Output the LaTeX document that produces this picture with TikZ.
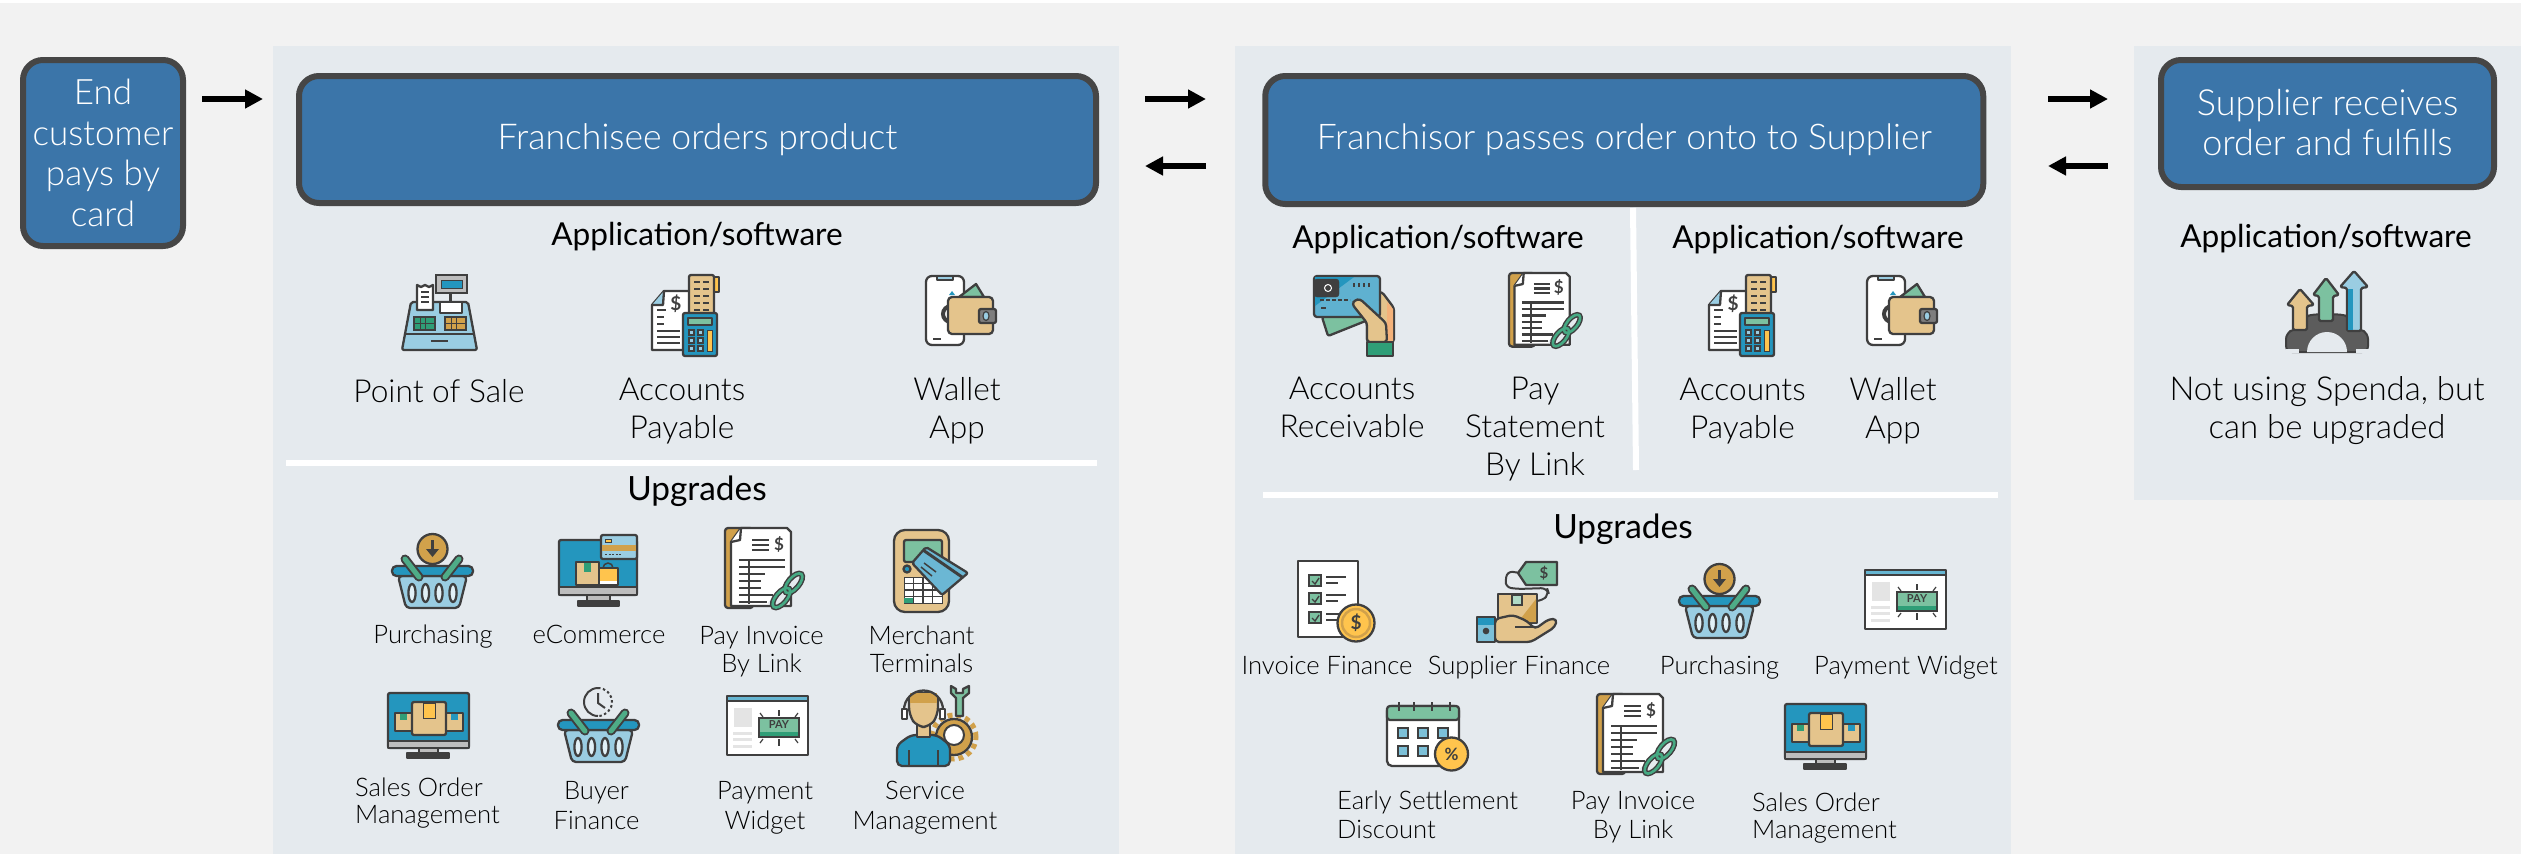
\documentclass[tikz,border=0pt]{standalone}
\usepackage{fontspec}
\setmainfont{Lato}
\newfontfamily\lightf{Lato Light}
\usetikzlibrary{arrows.meta,calc}
\definecolor{pagebg}{HTML}{F2F2F2}
\definecolor{panelbg}{HTML}{E5EAEE}
\definecolor{boxblue}{HTML}{3B75A9}
\definecolor{boxedge}{HTML}{464646}
\definecolor{icd}{HTML}{3F3F3F}
\definecolor{icb}{HTML}{2496BE}
\definecolor{iclb}{HTML}{9ACDE2}
\definecolor{icg}{HTML}{7CC1A0}
\definecolor{icdg}{HTML}{2F9E77}
\definecolor{ictan}{HTML}{E4C48C}
\definecolor{icdtan}{HTML}{D1A14B}
\definecolor{icy}{HTML}{FFC44D}
\definecolor{icgr}{HTML}{BDBDBD}
\definecolor{icor}{HTML}{F4B27A}
\tikzset{
 x=1pt,y=-1pt,
 panel/.style={fill=panelbg,draw=none},
 flow/.style={draw=boxedge,fill=boxblue,line width=6pt,rounded corners=20pt,text=white,align=center,inner sep=0pt,font=\lightf},
 arrowk/.style={line width=6.5pt,draw=black,-{Triangle[length=18pt,width=18pt]}},
 sep/.style={draw=white,line width=6pt},
 head/.style={inner sep=0pt,anchor=base,font=\fontsize{31.6}{31.6}\selectfont},
 headu/.style={inner sep=0pt,anchor=base,font=\fontsize{33.4}{33.4}\selectfont},
 big/.style={inner sep=0pt,anchor=base,align=center,font=\lightf\fontsize{31.7}{38}\selectfont},
 small/.style={inner sep=0pt,anchor=base,align=center,font=\lightf\fontsize{25.6}{28}\selectfont},
 smallb/.style={inner sep=0pt,anchor=base,align=center,font=\lightf\fontsize{25.6}{30}\selectfont},
 smallc/.style={inner sep=0pt,anchor=base west,align=left,font=\lightf\fontsize{25.6}{27}\selectfont},
 ic/.style={draw=icd,line width=2.3pt,line join=round},
 sym/.style={inner sep=0pt,text=icd,font=\bfseries\fontsize{#1}{#1}\selectfont},
 bar/.style={draw=icd,line width=2.4pt},
 basketbody/.pic={
  \draw[ic,fill=iclb,rounded corners=4pt] (6,42) -- (14,74) -- (67,74) -- (75,42) -- cycle;
  \foreach \q in {20,33.5,47,61}{\draw[ic,fill=iclb!30] (\q,59) ellipse (3.6 and 9);}
  \draw[ic,fill=icb,rounded corners=4.5pt] (0,32) rectangle (81,42);
  \draw[draw=icd,line width=9pt,line cap=round] (13,25) -- (27,43);
  \draw[draw=icd,line width=9pt,line cap=round] (67,25) -- (53,43);
  \draw[draw=icdg!60!icg,line width=5pt,line cap=round] (13,25) -- (27,43);
  \draw[draw=icdg!60!icg,line width=5pt,line cap=round] (67,25) -- (53,43);
 },
 purchase/.pic={
  \draw[ic,fill=icdtan] (40.5,15) circle (15pt);
  \draw[draw=icd,line width=3pt] (40.5,6) -- (40.5,16);
  \fill[icd] (34,15) -- (47,15) -- (40.5,23) -- cycle;
  \pic at (0,0) {basketbody};
 },
 buyer/.pic={
  \draw[draw=icd,line width=2pt] (40,0) arc[start angle=90,end angle=270,radius=14pt];
  \draw[draw=icd,line width=2pt,dash pattern=on 2.5pt off 2.5pt] (40,0) arc[start angle=90,end angle=-90,radius=14pt];
  \draw[draw=icd,line width=2pt] (40,5) -- (40,15) -- (47,20);
  \pic at (0,0) {basketbody};
 },
 pagelink/.pic={
  \draw[ic,fill=icdtan,rounded corners=3pt] (0,0) rectangle (28,80);
  \draw[ic,fill=white] (16,0) -- (62,0) -- (66,4) -- (66,78) -- (6,78) -- (6,14) -- cycle;
  \draw[ic,fill=white] (16,0) -- (15,12) -- (6,14);
  \foreach \q in {12,17,22}{\draw[bar] (27,\q) -- (44,\q);}
  \node[sym=17] (-dollar) at (54,16) {\$};
  \foreach \q/\r in {32/60,39/60,46/40,53/36,60/36,67/48,74/42}{\draw[bar] (14,\q) -- (\r,\q);}
  \draw[bar] (24,32) -- (24,76);
  \draw[draw=panelbg,line width=9pt] (46,78) -- (78,44);
  \begin{scope}[rotate around={50:(62.5,62.5)}]
   \draw[draw=icd,line width=5.5pt] (72,62.5) ellipse (12 and 5.5);
   \draw[draw=icd,line width=5.5pt] (53,62.5) ellipse (12 and 5.5);
   \draw[draw=icdg!70!icg,line width=2.6pt] (72,62.5) ellipse (12 and 5.5);
   \draw[draw=icdg!70!icg,line width=2.6pt] (53,62.5) ellipse (12 and 5.5);
  \end{scope}
 },
 accpay/.pic={
  \draw[ic,fill=white] (12,16) -- (38,16) -- (38,75) -- (0,75) -- (0,30) -- cycle;
  \draw[ic,fill=iclb] (12,16) -- (11,30) -- (0,30);
  \node[sym=19] (-dollar) at (24,29) {\$};
  \foreach \q/\r in {35/14,42/12,49/12,56/28,62/28,68/28}{\draw[draw=icd,line width=2pt] (5,\q) -- (\r,\q);}
  \draw[ic,fill=icy] (60,2) rectangle (67,17);
  \draw[ic,fill=ictan,rounded corners=2pt] (37,0) rectangle (62,40);
  \foreach \q in {7,14,21,28,35}{\draw[draw=icd,line width=2pt] (42,\q) -- (48,\q);\draw[draw=icd,line width=2pt] (51,\q) -- (57,\q);}
  \draw[ic,fill=icb,rounded corners=2pt] (31,38) rectangle (65,81);
  \draw[ic,fill=icg] (36,43) rectangle (60,50);
  \foreach \p in {37,46}{\foreach \q in {55,63,71}{\draw[draw=icd,line width=1.5pt,fill=iclb] (\p,\q) rectangle ++(5,5);}}
  \draw[draw=icd,line width=1pt,fill=icy] (55,55) rectangle (60,76);
 },
 wallet/.pic={
  \draw[ic,fill=white,rounded corners=6pt] (0,0) rectangle (38,69);
  \draw[ic,fill=iclb] (11,0) rectangle (27,4);
  \draw[draw=icd,line width=4pt] (25,30) arc[start angle=90,end angle=270,radius=8pt];
  \fill[icb] (23,19) -- (26,15) -- (29,19) -- cycle;
  \fill[icdtan] (22,47) rectangle (25,53);
  \draw[draw=icd,line width=2pt] (7,63) -- (15,63);
  \draw[ic,fill=icg] (33,21) -- (50,8) -- (58,21) -- cycle;
  \draw[ic,fill=ictan,rounded corners=4pt] (22,21) rectangle (67,58);
  \draw[ic,fill=icgr!50!icd,rounded corners=2pt] (53,33) rectangle (70,47);
  \draw[draw=icd,line width=1.2pt,fill=iclb] (60,40) ellipse (3 and 4.5);
 },
 pos/.pic={
  \draw[ic,fill=iclb,rounded corners=2pt] (9,27) -- (66,27) -- (75,75) -- (0,75) -- cycle;
  \draw[ic,fill=white] (15,10) -- (19,12) -- (23,10) -- (27,12) -- (31,10) -- (31,35) -- (15,35) -- cycle;
  \foreach \q in {17,22,27}{\draw[draw=icd,line width=1.5pt] (19,\q) -- (27,\q);}
  \draw[draw=icd,line width=3pt] (48,18) -- (48,28);
  \draw[draw=icd,fill=icgr,line width=2pt] (34,0) rectangle (65,18);
  \draw[draw=icd,fill=icb,line width=1pt] (39,5) rectangle (60,13);
  \draw[ic,fill=white] (38,27) rectangle (60,38);
  \draw[draw=icd,fill=icdg,line width=2pt] (12,42) rectangle (33,55);
  \draw[draw=icd,fill=icdtan,line width=2pt] (43,42) rectangle (64,55);
  \foreach \p in {18,23.5}{\draw[draw=icd,line width=1pt] (\p,42) -- (\p,55);}
  \foreach \p in {49,54.5}{\draw[draw=icd,line width=1pt] (\p,42) -- (\p,55);}
  \draw[draw=icd,line width=1pt] (12,48.5) -- (33,48.5);
  \draw[draw=icd,line width=1pt] (43,48.5) -- (64,48.5);
  \draw[draw=icd,line width=2.5pt] (3,59) -- (72,59);
  \draw[draw=icd,line width=2.5pt] (29,66) -- (46,66);
 },
 monitor/.pic={
  \draw[ic,fill=icb,rounded corners=2pt] (0,5) rectangle (78,60);
  \draw[ic,fill=icgr] (0,52) rectangle (78,60);
  \draw[ic,fill=icgr] (28,60) rectangle (51,66);
  \draw[ic,fill=icd] (19,66) rectangle (60,71);
  \draw[ic,fill=iclb,rounded corners=2pt] (42,0) rectangle (78,24);
  \fill[icdtan] (43,10) rectangle (77,16);
  \draw[draw=icd,line width=1.8pt,dash pattern=on 2pt off 1.5pt] (46,19.5) -- (62,19.5);
  \draw[draw=icd,line width=1pt,fill=icy] (46,4) rectangle (52,7);
  \draw[ic,fill=ictan] (17,27) rectangle (40,50);
  \fill[icdg] (25,28) rectangle (32,37);
  \draw[ic,fill=icy] (40,33) rectangle (59,50);
  \draw[draw=icd,line width=1.5pt] (44,33) arc[start angle=180,end angle=0,radius=5pt];
  \fill[white] (41,46) rectangle (58,49);
 },
 salesorder/.pic={
  \draw[ic,fill=icb,rounded corners=2pt] (0,0) rectangle (81,55);
  \draw[ic,fill=icgr] (0,48) rectangle (81,55);
  \draw[ic,fill=icgr] (31,55) rectangle (50,60);
  \draw[ic,fill=icd] (19,60) rectangle (61,65);
  \draw[ic,fill=ictan] (7,20) rectangle (24,38);
  \fill[icdg] (12,21) rectangle (19,27);
  \draw[ic,fill=ictan] (58,20) rectangle (75,38);
  \fill[icb] (63,21) rectangle (70,27);
  \draw[ic,fill=ictan,rounded corners=2pt] (24,9) rectangle (58,42);
  \draw[draw=icd,line width=1pt,fill=icy] (35,10) rectangle (47,25);
 },
 terminal/.pic={
  \draw[ic,fill=ictan,rounded corners=11pt] (0,0) rectangle (55,82);
  \draw[ic,fill=icg,rounded corners=2pt] (10,10) rectangle (48,32);
  \draw[ic,fill=icb] (13,39) circle (3.5pt);
  \draw[draw=icd,line width=1pt,fill=white] (10,47) rectangle (48,73);
  \foreach \p in {19.5,29,38.5}{\draw[draw=icd,line width=1.5pt] (\p,47) -- (\p,73);}
  \foreach \q in {53.5,60,66.5}{\draw[draw=icd,line width=1.5pt] (10,\q) -- (48,\q);}
  \fill[icdg] (10,68) rectangle (19,73);
  \draw[ic,fill=iclb!60!icb,rounded corners=2pt] (32,17) -- (74,43) -- (48,65) -- (18,33) -- cycle;
  \draw[draw=icd,line width=3pt] (29,20) -- (68,47);
  \draw[draw=icd,line width=1.5pt] (30,33) -- (42,42);
  \draw[draw=icd,line width=1.5pt] (27,37) -- (38,46);
 },
 widget/.pic={
  \draw[ic,fill=white] (0,0) rectangle (81,59);
  \fill[icb!70!white] (1,1) rectangle (80,5);
  \draw[bar,line width=1.5pt] (0,5) -- (81,5);
  \fill[icgr!40!white] (7,12) rectangle (25,31);
  \foreach \q in {36,42,49}{\fill[icgr!40!white] (6,\q) rectangle (25,\q+3);}
  \draw[draw=icd,line width=2pt,fill=icg] (32,22) rectangle (72,41);
  \fill[icdg] (33,36) rectangle (71,40);
  \node[sym=11] (-pay) at (52,29) {PAY};
  \foreach \p in {52}{\draw[draw=icd,line width=1.2pt] (\p,14) -- (\p,20);\draw[draw=icd,line width=1.2pt] (\p,43) -- (\p,50);}
  \foreach \a/\b/\c/\d in {33/17/36/21,71/17/68/21,33/47/36/43,71/47/68/43}{\draw[draw=icd,line width=1.2pt] (\a,\b) -- (\c,\d);}
 },
 service/.pic={
  \draw[draw=icdtan,line width=5pt,dash pattern=on 5pt off 4pt] (57,52) circle (22pt);
  \draw[ic,fill=icdtan] (57,52) circle (18pt);
  \draw[draw=icd,line width=2pt,fill=white] (57,50) circle (10pt);
  \draw[ic,fill=icg] (59,31) -- (59,13) -- (54,8) -- (54,1) -- (59,4) -- (59,8) -- (66,8) -- (66,4) -- (72,1) -- (72,8) -- (66,13) -- (66,31) -- cycle;
  \draw[ic,fill=icb,rounded corners=5pt] (0,81) -- (0,60) -- (14,50) -- (40,50) -- (53,60) -- (53,81) -- cycle;
  \draw[ic,fill=ictan] (20,38) rectangle (33,52);
  \draw[ic,fill=ictan,rounded corners=8pt] (12,8) -- (41,8) -- (41,30) -- (33,42) -- (20,42) -- (12,30) -- cycle;
  \fill[icdtan] (13,8) -- (40,8) -- (40,18) -- (13,18) -- cycle;
  \draw[draw=icd,line width=2.3pt] (7,25) arc[start angle=180,end angle=0,radius=19.5pt];
  \draw[ic,fill=white] (5,24) rectangle (10,34);
  \draw[ic,fill=white] (43,24) rectangle (48,34);
  \draw[draw=icd,line width=2pt] (12,65) -- (12,81);
  \draw[draw=icd,line width=2pt] (41,65) -- (41,81);
 },
 card/.pic={
  \draw[ic,fill=icg,rounded corners=2pt] (8,41) -- (14,60) -- (54,44) -- (54,38) -- cycle;
  \draw[ic,fill=ictan,rounded corners=3pt] (62,16) -- (68,16) -- (80,32) -- (80,66) -- (53,66) -- (53,40) -- cycle;
  \fill[icor] (73,26) -- (79,33) -- (79,65) -- (73,65) -- cycle;
  \draw[ic,fill=iclb!50!icb,rounded corners=3pt] (0,0) rectangle (66,41);
  \fill[icb] (1,30) -- (40,1) -- (1,1) -- cycle;
  \draw[draw=icd,fill=icd,rounded corners=3pt] (0,3) rectangle (25,21);
  \draw[draw=white,line width=1pt] (14,12) circle (3.5pt);
  \foreach \q in {40,45,50,55}{\draw[draw=icd,line width=2pt] (\q,7) -- (\q,11);}
  \draw[draw=icd,line width=2pt,dash pattern=on 4pt off 2pt] (6,24) -- (36,24);
  \draw[draw=icd,line width=2pt] (7,32) -- (12,32);
  \draw[ic,fill=ictan,rounded corners=3pt] (38,28) -- (41,24) -- (46,23) -- (72,47) -- (73,66) -- (53,66) -- (53,47) -- cycle;
  \draw[ic,fill=icdg] (53,66) rectangle (79,80);
 },
 calendar/.pic={
  \draw[ic,fill=white,rounded corners=5pt] (0,4) rectangle (72,64);
  \draw[ic,fill=icg,rounded corners=3pt] (0,4) rectangle (72,18);
  \foreach \p in {12,27,45,63}{\draw[draw=icd,line width=2.2pt] (\p,0) -- (\p,9);}
  \foreach \p in {16,36,56}{\foreach \q in {31,49}{\draw[draw=icd,line width=2pt,fill=icb!60!white] (\p-5,\q-5) rectangle (\p+5,\q+5);}}
  \draw[ic,fill=icy] (64.5,52) circle (16.5pt);
  \node[sym=17] (-pct) at (64.5,52) {\%};
 },
 invfin/.pic={
  \draw[ic,fill=white] (0,0) rectangle (60,76);
  \foreach \q in {14,32,51}{
   \draw[draw=icd,line width=1.8pt,fill=icg] (11,\q) rectangle (23,\q+11);
   \draw[draw=icd,line width=1.4pt] (14,\q+6) -- (17,\q+9) -- (21,\q+3);
   \draw[draw=icd,line width=2pt] (28,\q+2) -- (48,\q+2);
   \draw[draw=icd,line width=2pt] (28,\q+8) -- (40,\q+8);
  }
  \draw[ic,fill=icy] (58,62) circle (18.5pt);
  \draw[draw=icdtan,line width=2.5pt] (58,62) circle (14pt);
  \node[sym=19] (-dollar) at (58,62) {\$};
 },
 supfin/.pic={
  \draw[draw=icd,line width=2pt,rounded corners=6pt] (43,12) -- (30,10) -- (28,26) -- (40,28) -- (70,27) -- (72,33) -- (65,40) -- (60,40);
  \draw[ic,fill=icg] (41,12) -- (49,1) -- (80,1) -- (80,24) -- (49,24) -- cycle;
  \node[sym=15] (-dollar) at (67,12.5) {\$};
  \draw[ic,fill=ictan] (21,33) rectangle (60,62);
  \fill[icdtan] (59,38) -- (59,61) -- (41,61) -- cycle;
  \draw[draw=icd,line width=1.5pt,fill=icg!60!white] (35,34) rectangle (45,44);
  \draw[ic,fill=ictan,rounded corners=4pt] (18,58) -- (36,54) -- (50,60) -- (58,68) -- (72,58) -- (80,58) -- (78,66) -- (54,81) -- (18,81) -- cycle;
  \draw[draw=icd,line width=2.3pt,rounded corners=2pt] (38,66) -- (58,66);
  \draw[ic,fill=icb!60!white] (0,56) rectangle (18,81);
  \fill[icb] (1,57) rectangle (17,64);
  \draw[draw=icd,line width=1.5pt,fill=icd] (9,70) circle (2.5pt);
 },
 upgrade/.pic={
  \draw[draw=icd,line width=2pt,fill=icd!85!white,rounded corners=6pt] (0,81) -- (0,62) -- (9,58) -- (18,57) -- (18,46) -- (28,43) -- (41,44) -- (54,43) -- (64,46) -- (64,57) -- (73,58) -- (82,62) -- (82,81) -- (68,81) -- (61,81) -- cycle;
  \fill[panelbg] (61,81) arc[start angle=0,end angle=180,radius=20pt] -- cycle;
  \fill[panelbg] (0,78) rectangle (13,81.5);
  \fill[panelbg] (70,78) rectangle (83,81.5);
  \draw[ic,fill=ictan,rounded corners=1.5pt] (7,59) -- (7,35) -- (1,34) -- (14,18) -- (28,34) -- (21,35) -- (21,59) -- cycle;
  \draw[ic,fill=icg,rounded corners=1.5pt] (33,50) -- (33,25) -- (27,24) -- (40,7) -- (53,24) -- (47,25) -- (47,50) -- cycle;
  \draw[ic,fill=iclb,rounded corners=1.5pt] (61,60) -- (61,17) -- (54,16) -- (68,0) -- (82,16) -- (75,17) -- (75,60) -- cycle;
  \fill[icb] (62,18) rectangle (67,59);
 },
}
\begin{document}
\begin{tikzpicture}
\useasboundingbox (0,0) rectangle (2521,854);
\fill[white] (0,0) rectangle (2521,854);
\fill[pagebg] (0,3) rectangle (2521,854);
\fill[panel] (273,46) rectangle (1119,854);
\fill[panel] (1235,46) rectangle (2011,854);
\fill[panel] (2134,46) rectangle (2521,500);

\node[flow,minimum width=160pt,minimum height=186pt,font=\lightf\fontsize{35}{40.5}\selectfont] (endc) at (103,153) {End\\customer\\pays by\\card};
\node[flow,minimum width=797pt,minimum height=127pt,font=\lightf\fontsize{35.6}{40}\selectfont] (fran) at (697.5,139.5) {Franchisee orders product};
\node[flow,minimum width=718pt,minimum height=128pt,font=\lightf\fontsize{35.4}{40}\selectfont] (fror) at (1624.25,140) {Franchisor passes order onto to Supplier};
\node[flow,minimum width=333pt,minimum height=127pt,font=\lightf\fontsize{36}{40}\selectfont] (supp) at (2327.5,123.5) {\raisebox{3pt}{Supplier receives}\\\raisebox{3pt}{order and fulfills}};

\coordinate (a1s) at (202,99); \coordinate (a1e) at (263,99);
\coordinate (a2s) at (1145,99); \coordinate (a2e) at (1206,99);
\coordinate (a3s) at (1206,166); \coordinate (a3e) at (1145,166);
\coordinate (a4s) at (2048,99); \coordinate (a4e) at (2108,99);
\coordinate (a5s) at (2108,166); \coordinate (a5e) at (2048,166);
\draw[arrowk] (a1s) -- (a1e);
\draw[arrowk] (a2s) -- (a2e);
\draw[arrowk] (a3s) -- (a3e);
\draw[arrowk] (a4s) -- (a4e);
\draw[arrowk] (a5s) -- (a5e);

\draw[sep] (286,463) -- (1097,463);
\draw[sep] (1263,495) -- (1998,495);
\draw[sep] (1633,208) -- (1636,470);

% first panel
\node[head] (h1) at (697,245) {Application/software};
\node[headu] (u1) at (697,500) {Upgrades};
\pic (i1) at (402,275) {pos};
\pic (i2) at (652,275) {accpay};
\pic (i3) at (926,276) {wallet};
\node[big] (t1) at (439,402) {Point of Sale};
\node[big] (t2) at (682,438) {Accounts\\Payable};
\node[big] (t3) at (957,438) {Wallet\\App};
\pic (i4) at (392,534) {purchase};
\pic (i5) at (559,535) {monitor};
\pic (i6) at (725,528) {pagelink};
\pic (i7) at (894,530) {terminal};
\pic (i8) at (388,693) {salesorder};
\pic (i9) at (558,688) {buyer};
\pic (i10) at (727,696) {widget};
\pic (i11) at (897,685) {service};
\node[small] (t4) at (433,643) {Purchasing};
\node[small] (t5) at (599,643) {eCommerce};
\node[small] (t6) at (761.5,672) {Pay Invoice\\By Link};
\node[small] (t7) at (921.5,672) {Merchant\\Terminals};
\node[smallc] (t8) at (355,823) {Sales Order\\Management};
\node[smallb] (t9) at (596.5,829) {Buyer\\Finance};
\node[smallb] (t10) at (765,829) {Payment\\Widget};
\node[smallb] (t11) at (925,829) {Service\\Management};

% second panel
\node[head] (h2) at (1438,248) {Application/software};
\node[head] (h3) at (1818,248) {Application/software};
\pic (i12) at (1314,276) {card};
\pic[scale=.92] (i13) at (1509,273) {pagelink};
\pic (i14) at (1709,275) {accpay};
\pic (i15) at (1867,276) {wallet};
\node[big] (t12) at (1352,437) {Accounts\\Receivable};
\node[big] (t13) at (1535,475) {Pay\\Statement\\By Link};
\node[big] (t14) at (1742.5,438) {Accounts\\Payable};
\node[big] (t15) at (1893,438) {Wallet\\App};
\node[headu] (u2) at (1623,538) {Upgrades};
\pic (i16) at (1298,561) {invfin};
\pic (i17) at (1477,561) {supfin};
\pic (i18) at (1679,564) {purchase};
\pic (i19) at (1865,570) {widget};
\pic (i20) at (1387,702) {calendar};
\pic (i21) at (1597,694) {pagelink};
\pic (i22) at (1785,704) {salesorder};
\node[small] (t16) at (1327,674) {Invoice Finance};
\node[small] (t17) at (1519,674) {Supplier Finance};
\node[small] (t18) at (1719.5,674) {Purchasing};
\node[small] (t19) at (1906,674) {Payment Widget};
\node[smallc,font=\lightf\fontsize{25.6}{29}\selectfont] (t20) at (1337,838) {Early Settlement\\Discount};
\node[smallb,font=\lightf\fontsize{25.6}{29}\selectfont] (t21) at (1633,838) {Pay Invoice\\By Link};
\node[smallc] (t22) at (1752,838) {Sales Order\\Management};

% third panel
\node[head] (h4) at (2326,247) {Application/software};
\pic (i23) at (2286,271) {upgrade};
\node[big,font=\lightf\fontsize{33}{38}\selectfont] (t23) at (2327,438) {Not using Spenda, but\\can be upgraded};
\end{tikzpicture}
\end{document}
